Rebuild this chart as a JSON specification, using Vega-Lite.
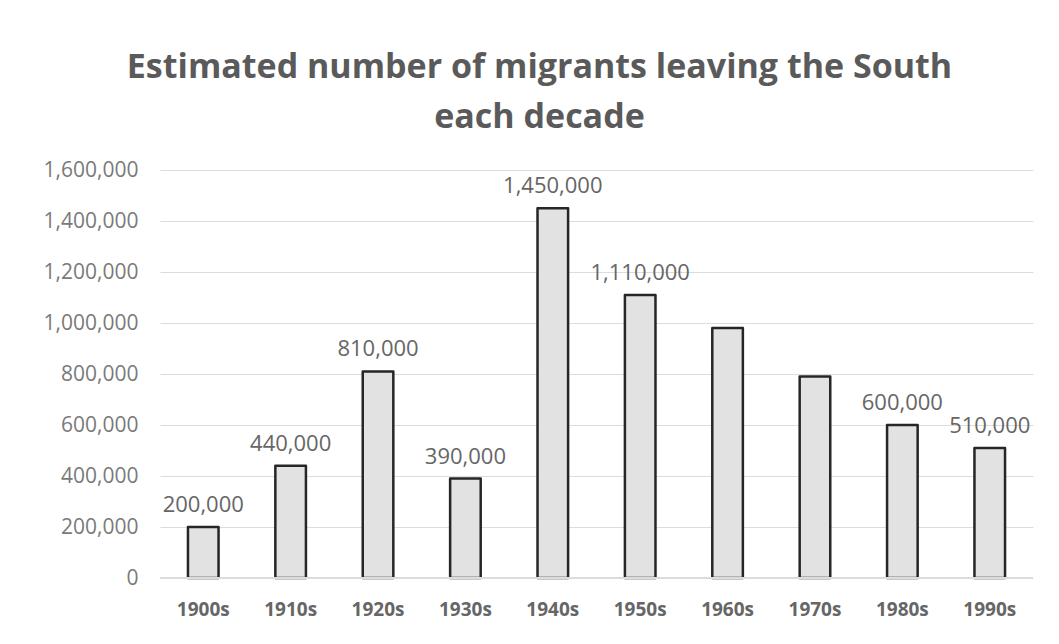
{
  "$schema": "https://vega.github.io/schema/vega-lite/v6.json",
  "autosize": {"type": "none"},
  "width": 873,
  "height": 408,
  "padding": {"left": 160, "top": 170, "right": 26, "bottom": 66},
  "background": "#ffffff",
  "title": {
    "text": ["Estimated number of migrants leaving the South", "each decade"],
    "font": "Open Sans",
    "fontSize": 34,
    "fontWeight": "bold",
    "color": "#5a5a5a",
    "anchor": "middle",
    "dx": -57,
    "lineHeight": 50,
    "offset": 24
  },
  "data": {
    "values": [
      {"decade": "1900s", "migrants": 200000, "labeled": true},
      {"decade": "1910s", "migrants": 440000, "labeled": true},
      {"decade": "1920s", "migrants": 810000, "labeled": true},
      {"decade": "1930s", "migrants": 390000, "labeled": true},
      {"decade": "1940s", "migrants": 1450000, "labeled": true},
      {"decade": "1950s", "migrants": 1110000, "labeled": true},
      {"decade": "1960s", "migrants": 980000, "labeled": false},
      {"decade": "1970s", "migrants": 790000, "labeled": false},
      {"decade": "1980s", "migrants": 600000, "labeled": true},
      {"decade": "1990s", "migrants": 510000, "labeled": true}
    ]
  },
  "encoding": {
    "x": {
      "field": "decade",
      "type": "ordinal",
      "sort": null,
      "scale": {"paddingInner": 0.65, "paddingOuter": 0.32},
      "axis": {
        "title": null,
        "labelAngle": 0,
        "labelFont": "Open Sans",
        "labelFontSize": 19,
        "labelFontWeight": "bold",
        "labelColor": "#666666",
        "labelPadding": 22,
        "ticks": false,
        "domain": false,
        "grid": false
      }
    },
    "y": {
      "field": "migrants",
      "type": "quantitative",
      "scale": {"domain": [0, 1600000], "nice": false},
      "axis": {
        "title": null,
        "values": [0, 200000, 400000, 600000, 800000, 1000000, 1200000, 1400000, 1600000],
        "format": ",d",
        "labelFont": "Open Sans",
        "labelFontSize": 21,
        "labelColor": "#7a7a7a",
        "labelPadding": 22,
        "ticks": false,
        "domain": false,
        "grid": true,
        "gridColor": "#dcdcdc",
        "gridWidth": 1
      }
    }
  },
  "layer": [
    {
      "mark": {"type": "bar", "fill": "#e2e2e2", "stroke": "#262626", "strokeWidth": 2.5, "strokeJoin": "round"}
    },
    {
      "mark": {"type": "rule", "color": "#dcdcdc", "strokeWidth": 2},
      "encoding": {"y": {"datum": 0}, "x": null}
    },
    {
      "transform": [{"filter": "datum.labeled"}],
      "mark": {"type": "text", "baseline": "bottom", "dy": -10, "font": "Open Sans", "fontSize": 22, "color": "#666666"},
      "encoding": {"text": {"field": "migrants", "type": "quantitative", "format": ",d"}}
    }
  ],
  "config": {"view": {"stroke": null}}
}
